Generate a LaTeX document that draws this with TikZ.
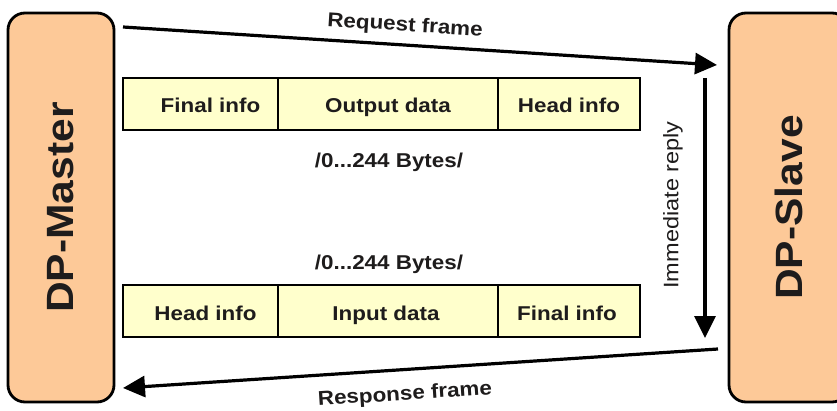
\documentclass[tikz,border=0pt]{standalone}
\usepackage{fontspec}
\setmainfont{Liberation Sans}[FakeStretch=1.12]
\usetikzlibrary{arrows.meta}
\definecolor{peach}{RGB}{253,201,152}
\definecolor{paleyellow}{RGB}{255,255,204}
\definecolor{ink}{RGB}{30,28,28}
\tikzset{
  station/.style={draw=black, line width=2.8pt, fill=peach, rounded corners=17pt,
    text=ink, font=\fontsize{38}{44}\selectfont\bfseries, rotate=90, inner sep=0pt},
  cell/.style={draw=black, line width=2.5pt, fill=paleyellow, minimum height=52pt,
    inner sep=0pt, text height=18pt, text depth=0pt, text=ink,
    font=\fontsize{20}{24}\selectfont\bfseries},
  lbl/.style={text=ink, font=\fontsize{20}{24}\selectfont\bfseries, inner sep=0pt},
  vlbl/.style={text=ink, font=\fontsize{21}{25}\selectfont, inner sep=0pt, rotate=90},
  arr/.style={draw=black, line width=3.2pt, -{Triangle[length=22pt,width=21pt]}}
}
\begin{document}
\begin{tikzpicture}[x=1pt,y=-1pt]
\useasboundingbox (0,0) rectangle (837,411);
\fill[white] (0,0) rectangle (837,411);
\begin{scope}
\clip (0,0) rectangle (837,411);
% stations
\node[station, minimum width=389pt, minimum height=106pt] (master) at (61,207.5) {DP-Master};
\node[station, minimum width=389pt, minimum height=120pt] (slave) at (789,207.5) {DP-Slave};
% request frame cells
\node[cell, minimum width=155pt] (tf) at (200.5,104) {\hspace*{20pt}Final info};
\node[cell, minimum width=220pt] (to) at (388,104) {Output data};
\node[cell, minimum width=142pt] (th) at (569,104) {Head info};
% response frame cells
\node[cell, minimum width=155pt] (bh) at (200.5,311) {\hspace*{10pt}Head info};
\node[cell, minimum width=220pt] (bi) at (388,311) {Input data\hspace*{4pt}};
\node[cell, minimum width=142pt] (bf) at (569,311) {Final info\hspace*{4pt}};
% byte labels
\node[lbl] (b1) at (389,162) {/0...244 Bytes/};
\node[lbl] (b2) at (389,264) {/0...244 Bytes/};
% connector end points
\coordinate (reqS) at (123,27);
\coordinate (reqE) at (717,65);
\coordinate (repS) at (705,78);
\coordinate (repE) at (705,338);
\coordinate (resS) at (718,349);
\coordinate (resE) at (123,388);
\draw[arr] (reqS) -- (reqE);
\draw[arr] (repS) -- (repE);
\draw[arr] (resS) -- (resE);
\node[lbl, rotate=-3.66] (reql) at (405,26) {Request frame};
\node[lbl, rotate=3.75] (resl) at (405,395) {Response frame};
\node[vlbl] (repl) at (673,205) {Immediate reply};
\end{scope}
\end{tikzpicture}
\end{document}
